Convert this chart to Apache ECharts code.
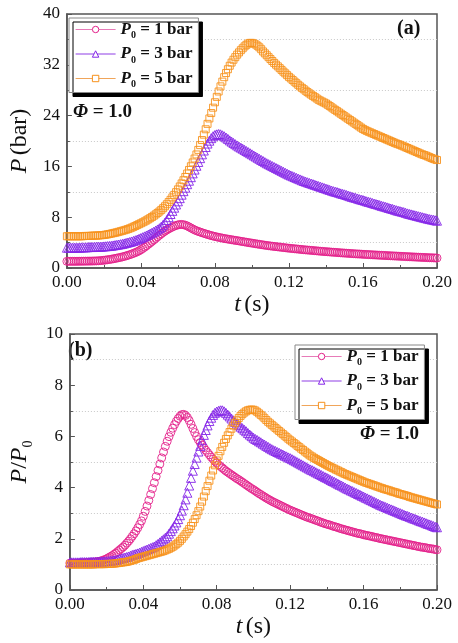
<!DOCTYPE html>
<html><head><meta charset="utf-8">
<script src="https://cdn.jsdelivr.net/npm/echarts@6/dist/echarts.min.js"></script>
<style>html,body{margin:0;padding:0;background:#fff}#c{width:458px;height:643px}</style>
</head><body><div id="c"></div>
<script>
// time (s)
const tSec = [
0.000,0.001,0.002,0.003,0.004,0.005,0.006,0.007,0.008,0.009,
0.010,0.011,0.012,0.013,0.014,0.015,0.016,0.017,0.018,0.019,
0.020,0.021,0.022,0.023,0.024,0.025,0.026,0.027,0.028,0.029,
0.030,0.031,0.032,0.033,0.034,0.035,0.036,0.037,0.038,0.039,
0.040,0.041,0.042,0.043,0.044,0.045,0.046,0.047,0.048,0.049,
0.050,0.051,0.052,0.053,0.054,0.055,0.056,0.057,0.058,0.059,
0.060,0.061,0.062,0.063,0.064,0.065,0.066,0.067,0.068,0.069,
0.070,0.071,0.072,0.073,0.074,0.075,0.076,0.077,0.078,0.079,
0.080,0.081,0.082,0.083,0.084,0.085,0.086,0.087,0.088,0.089,
0.090,0.091,0.092,0.093,0.094,0.095,0.096,0.097,0.098,0.099,
0.100,0.101,0.102,0.103,0.104,0.105,0.106,0.107,0.108,0.109,
0.110,0.111,0.112,0.113,0.114,0.115,0.116,0.117,0.118,0.119,
0.120,0.121,0.122,0.123,0.124,0.125,0.126,0.127,0.128,0.129,
0.130,0.131,0.132,0.133,0.134,0.135,0.136,0.137,0.138,0.139,
0.140,0.141,0.142,0.143,0.144,0.145,0.146,0.147,0.148,0.149,
0.150,0.151,0.152,0.153,0.154,0.155,0.156,0.157,0.158,0.159,
0.160,0.161,0.162,0.163,0.164,0.165,0.166,0.167,0.168,0.169,
0.170,0.171,0.172,0.173,0.174,0.175,0.176,0.177,0.178,0.179,
0.180,0.181,0.182,0.183,0.184,0.185,0.186,0.187,0.188,0.189,
0.190,0.191,0.192,0.193,0.194,0.195,0.196,0.197,0.198,0.199,
0.200];

// P0 = 1 bar : P (bar) in (a), identical to P/P0 in (b)
const p1bar = [
1.05,1.05,1.05,1.05,1.05,1.05,1.06,1.06,1.07,1.07,
1.08,1.08,1.09,1.09,1.10,1.11,1.12,1.14,1.16,1.19,
1.22,1.26,1.30,1.34,1.39,1.44,1.50,1.56,1.62,1.68,
1.75,1.83,1.91,2.00,2.10,2.20,2.31,2.43,2.56,2.70,
2.88,3.07,3.28,3.50,3.73,3.96,4.19,4.43,4.67,4.92,
5.16,5.39,5.61,5.81,5.99,6.16,6.32,6.46,6.59,6.70,
6.79,6.85,6.86,6.82,6.74,6.62,6.47,6.31,6.15,6.00,
5.87,5.76,5.66,5.56,5.46,5.37,5.28,5.19,5.11,5.03,
4.96,4.89,4.83,4.77,4.71,4.65,4.60,4.55,4.50,4.45,
4.40,4.35,4.31,4.26,4.21,4.16,4.11,4.06,4.01,3.96,
3.92,3.87,3.82,3.77,3.73,3.68,3.64,3.59,3.55,3.51,
3.47,3.43,3.40,3.36,3.33,3.29,3.26,3.22,3.19,3.15,
3.12,3.09,3.06,3.03,3.00,2.97,2.94,2.91,2.88,2.85,
2.83,2.80,2.78,2.75,2.72,2.70,2.67,2.64,2.62,2.59,
2.57,2.55,2.53,2.50,2.48,2.46,2.44,2.41,2.39,2.37,
2.35,2.33,2.31,2.29,2.27,2.25,2.23,2.21,2.20,2.18,
2.16,2.14,2.13,2.11,2.10,2.08,2.06,2.05,2.03,2.01,
2.00,1.98,1.97,1.95,1.94,1.92,1.91,1.89,1.88,1.86,
1.85,1.83,1.82,1.80,1.79,1.77,1.76,1.74,1.73,1.71,
1.70,1.68,1.67,1.66,1.65,1.63,1.62,1.61,1.60,1.58,
1.57];

// (a) P (bar), P0 = 3 bar
const p3bar = [
3.2,3.2,3.2,3.2,3.2,3.2,3.2,3.22,3.25,3.25,
3.25,3.27,3.3,3.3,3.3,3.32,3.35,3.35,3.35,3.37,
3.4,3.42,3.45,3.47,3.5,3.55,3.6,3.65,3.7,3.75,
3.8,3.87,3.95,4.02,4.1,4.18,4.27,4.37,4.48,4.6,
4.72,4.85,4.98,5.12,5.26,5.41,5.56,5.72,5.89,6.07,
6.26,6.5,6.8,7.15,7.55,8.0,8.5,9.0,9.5,10.0,
10.5,11.0,11.55,12.1,12.65,13.2,13.75,14.3,14.9,15.5,
16.1,16.7,17.3,17.9,18.5,19.05,19.6,20.05,20.45,20.75,
20.95,21.05,21.1,21.05,20.9,20.75,20.55,20.33,20.1,19.9,
19.7,19.5,19.3,19.12,18.95,18.78,18.6,18.42,18.25,18.07,
17.9,17.72,17.55,17.37,17.2,17.02,16.85,16.67,16.5,16.35,
16.2,16.05,15.9,15.75,15.6,15.45,15.3,15.15,15.0,14.85,
14.7,14.57,14.45,14.32,14.2,14.07,13.95,13.82,13.7,13.6,
13.5,13.4,13.3,13.2,13.1,13.0,12.9,12.8,12.7,12.6,
12.5,12.4,12.3,12.2,12.1,12.02,11.95,11.85,11.75,11.67,
11.6,11.5,11.4,11.3,11.2,11.12,11.05,10.95,10.85,10.77,
10.7,10.6,10.5,10.42,10.35,10.25,10.15,10.07,10.0,9.9,
9.8,9.72,9.65,9.55,9.45,9.37,9.3,9.2,9.1,9.02,
8.95,8.87,8.8,8.7,8.6,8.52,8.45,8.37,8.3,8.22,
8.15,8.07,8.0,7.92,7.85,7.77,7.7,7.65,7.6,7.52,
7.45];

// (a) P (bar), P0 = 5 bar
const p5bar = [
5.0,5.0,5.0,5.0,5.0,5.0,5.0,5.0,5.0,5.02,
5.05,5.05,5.05,5.07,5.1,5.1,5.1,5.12,5.15,5.17,
5.2,5.25,5.3,5.36,5.42,5.48,5.55,5.62,5.7,5.78,
5.86,5.94,6.03,6.13,6.24,6.36,6.49,6.62,6.76,6.9,
7.04,7.19,7.34,7.5,7.67,7.85,8.04,8.24,8.45,8.67,
8.9,9.15,9.42,9.72,10.04,10.38,10.74,11.12,11.52,11.94,
12.38,12.84,13.32,13.82,14.34,14.88,15.44,16.02,16.62,17.24,
17.88,18.6,19.35,20.15,21.0,21.85,22.7,23.55,24.4,25.25,
26.1,26.95,27.8,28.6,29.35,30.05,30.7,31.3,31.85,32.35,
32.8,33.2,33.6,33.95,34.3,34.6,34.9,35.15,35.35,35.45,
35.45,35.35,35.2,35.0,34.75,34.45,34.1,33.8,33.5,33.2,
32.9,32.6,32.3,32.02,31.75,31.47,31.2,30.92,30.65,30.37,
30.1,29.85,29.6,29.35,29.1,28.85,28.6,28.37,28.15,27.92,
27.7,27.5,27.3,27.1,26.9,26.7,26.5,26.35,26.2,26.05,
25.9,25.7,25.5,25.3,25.1,24.9,24.7,24.5,24.3,24.1,
23.9,23.7,23.5,23.3,23.1,22.9,22.7,22.5,22.3,22.1,
21.9,21.75,21.6,21.47,21.35,21.22,21.1,20.97,20.85,20.72,
20.6,20.47,20.35,20.22,20.1,19.97,19.85,19.72,19.6,19.5,
19.4,19.27,19.15,19.02,18.9,18.77,18.65,18.52,18.4,18.27,
18.15,18.02,17.9,17.8,17.7,17.57,17.45,17.32,17.2,17.1,
17.0];

// (b) P/P0, P0 = 3 bar
const r3bar = [
1.08,1.08,1.08,1.08,1.08,1.08,1.09,1.09,1.09,1.09,
1.09,1.10,1.10,1.10,1.10,1.11,1.11,1.11,1.11,1.12,
1.12,1.13,1.14,1.15,1.16,1.17,1.19,1.21,1.23,1.25,
1.27,1.29,1.31,1.34,1.37,1.39,1.41,1.43,1.46,1.49,
1.52,1.55,1.58,1.61,1.64,1.67,1.70,1.75,1.80,1.86,
1.92,1.98,2.04,2.10,2.20,2.30,2.41,2.52,2.64,2.77,
2.92,3.10,3.31,3.54,3.80,4.08,4.38,4.66,4.92,5.17,
5.41,5.63,5.85,6.06,6.25,6.43,6.60,6.73,6.84,6.92,
6.97,7.00,7.02,7.02,6.98,6.92,6.85,6.78,6.70,6.63,
6.56,6.50,6.44,6.38,6.32,6.26,6.20,6.13,6.07,6.01,
5.95,5.90,5.86,5.81,5.77,5.72,5.68,5.63,5.59,5.54,
5.50,5.46,5.43,5.39,5.36,5.32,5.29,5.25,5.22,5.18,
5.15,5.11,5.07,5.03,4.99,4.95,4.91,4.87,4.83,4.79,
4.75,4.71,4.68,4.64,4.60,4.56,4.53,4.49,4.45,4.41,
4.38,4.34,4.30,4.26,4.23,4.19,4.15,4.11,4.08,4.04,
4.00,3.96,3.93,3.89,3.86,3.82,3.79,3.75,3.72,3.68,
3.65,3.61,3.58,3.54,3.51,3.47,3.44,3.40,3.37,3.33,
3.30,3.27,3.24,3.21,3.18,3.15,3.12,3.09,3.06,3.03,
3.00,2.97,2.94,2.91,2.89,2.86,2.83,2.80,2.78,2.75,
2.72,2.69,2.67,2.64,2.61,2.58,2.56,2.53,2.50,2.47,
2.45];

// (b) P/P0, P0 = 5 bar
const r5bar = [
1.00,1.00,1.00,1.00,1.00,1.00,1.00,1.00,1.00,1.00,
1.00,1.00,1.00,1.00,1.01,1.01,1.01,1.01,1.01,1.01,
1.02,1.02,1.02,1.03,1.03,1.04,1.05,1.06,1.07,1.08,
1.09,1.10,1.12,1.14,1.16,1.18,1.21,1.24,1.26,1.28,
1.30,1.32,1.34,1.36,1.38,1.40,1.42,1.44,1.46,1.48,
1.50,1.52,1.55,1.58,1.61,1.65,1.69,1.74,1.79,1.85,
1.92,2.00,2.09,2.18,2.28,2.38,2.50,2.63,2.77,2.92,
3.08,3.26,3.45,3.65,3.86,4.06,4.27,4.47,4.67,4.87,
5.06,5.24,5.42,5.59,5.75,5.90,6.04,6.17,6.30,6.42,
6.53,6.63,6.72,6.80,6.87,6.93,6.98,7.02,7.04,7.05,
7.04,7.01,6.96,6.90,6.84,6.78,6.71,6.64,6.57,6.51,
6.45,6.39,6.33,6.27,6.21,6.15,6.09,6.03,5.97,5.91,
5.85,5.80,5.74,5.69,5.63,5.58,5.52,5.47,5.41,5.36,
5.30,5.25,5.21,5.16,5.12,5.08,5.04,5.00,4.96,4.92,
4.88,4.84,4.81,4.77,4.74,4.70,4.67,4.63,4.60,4.56,
4.53,4.50,4.47,4.44,4.41,4.38,4.35,4.32,4.29,4.26,
4.23,4.20,4.18,4.15,4.13,4.10,4.08,4.05,4.03,4.00,
3.98,3.95,3.93,3.91,3.89,3.86,3.84,3.82,3.80,3.77,
3.75,3.73,3.71,3.69,3.67,3.64,3.62,3.60,3.58,3.56,
3.54,3.52,3.50,3.48,3.46,3.44,3.42,3.40,3.38,3.36,
3.34];

const seriesNames = ['P0 = 1 bar', 'P0 = 3 bar', 'P0 = 5 bar'];
const legendLabels = ['1 bar', '3 bar', '5 bar'];

const colors = ['#e3208a', '#8425e8', '#f7921c'];
const legendLineColors = ['#e77bb8', '#8f3ee6', '#f0a55a'];
const symbols = ['circle', 'triangle', 'rect'];
const symbolSizes = [8, 9, 7];
const serif = '"Liberation Serif","Times New Roman",serif';

function pairs(vals) { return tSec.map((t, i) => [t, vals[i]]); }

const topSets = [p1bar, p3bar, p5bar];
const botSets = [p1bar, r3bar, r5bar];

const series = [];
[topSets, botSets].forEach((sets, g) => {
  sets.forEach((vals, k) => {
    series.push({
      name: seriesNames[k],
      type: 'line',
      xAxisIndex: g, yAxisIndex: g,
      data: pairs(vals),
      symbol: symbols[k],
      symbolSize: symbolSizes[k],
      showSymbol: true,
      showAllSymbol: true,
      color: colors[k],
      itemStyle: { color: 'rgba(255,255,255,0)', borderColor: colors[k], borderWidth: 0.9 },
      lineStyle: { color: colors[k], opacity: 0 },
      emphasis: { disabled: true },
      animation: false,
      z: 3 + k
    });
  });
});

const richLegend = {
  i: { fontFamily: serif, fontStyle: 'italic', fontWeight: 'bold', fontSize: 17, color: '#111', lineHeight: 22, verticalAlign: 'middle' },
  s: { fontFamily: serif, fontWeight: 'bold', fontSize: 10, color: '#111', lineHeight: 22, verticalAlign: 'bottom' },
  b: { fontFamily: serif, fontWeight: 'bold', fontSize: 17, color: '#111', lineHeight: 22, verticalAlign: 'middle' }
};
function legendFmt(name) {
  const k = seriesNames.indexOf(name);
  return '{i|P}{s|0}{b| = ' + legendLabels[k] + '}';
}
function makeLegend(left, top) {
  return {
    orient: 'vertical', left: left, top: top,
    data: seriesNames.map((n, k) => ({
      name: n,
      itemStyle: { color: '#fff', borderColor: colors[k], borderWidth: 1 },
      lineStyle: { color: legendLineColors[k], opacity: 1, width: 1.2 }
    })),
    itemWidth: 40, itemHeight: 8, itemGap: 5,
    padding: [3, 6, 3, 6],
    backgroundColor: '#fff', borderColor: '#888', borderWidth: 1,
    shadowColor: '#000', shadowOffsetX: 4, shadowOffsetY: 4, shadowBlur: 0,
    lineStyle: { opacity: 1, width: 1.2 },
    formatter: legendFmt,
    textStyle: { rich: richLegend },
    selectedMode: false
  };
}

const axisCommon = {
  axisLine: { show: true, onZero: false, lineStyle: { color: '#555', width: 1.5 } },
  axisTick: { show: true, inside: true, length: 5, lineStyle: { color: '#555', width: 1 } },
  minorTick: { show: true, splitNumber: 2, length: 3, lineStyle: { color: '#555' } },
  splitLine: { show: false },
  axisLabel: { fontFamily: serif, fontSize: 17, color: '#111' }
};

function xAx(idx) {
  return Object.assign({}, axisCommon, {
    type: 'value', gridIndex: idx, min: 0, max: 0.2, interval: 0.04,
    axisLabel: Object.assign({}, axisCommon.axisLabel, { margin: 6, formatter: v => v.toFixed(2) }),
    name: '{i|t} {n|(s)}', nameLocation: 'middle', nameGap: 25,
    nameTextStyle: { rich: {
      i: { fontFamily: serif, fontStyle: 'italic', fontSize: 24, color: '#111' },
      n: { fontFamily: serif, fontSize: 24, color: '#111' } } }
  });
}
function yAx(idx, max, interval, name, rich) {
  return Object.assign({}, axisCommon, {
    type: 'value', gridIndex: idx, min: 0, max: max, interval: interval,
    axisLabel: Object.assign({}, axisCommon.axisLabel, { margin: 7 }),
    minorSplitLine: { show: true, lineStyle: { color: '#c8c8c8', type: [1, 2], width: 1 } },
    name: name, nameLocation: 'middle', nameGap: 32, nameRotate: 90,
    nameTextStyle: { rich: rich }
  });
}

const option = {
  backgroundColor: '#fff',
  animation: false,
  grid: [
    { left: 60, top: 14, width: 377, height: 254, show: true, borderColor: '#555', borderWidth: 1.5, backgroundColor: 'transparent' },
    { left: 60, top: 334, width: 377, height: 256, show: true, borderColor: '#555', borderWidth: 1.5, backgroundColor: 'transparent' }
  ],
  xAxis: [xAx(0), xAx(1)],
  yAxis: [
    yAx(0, 40, 8, '{i|P} {n|(bar)}', {
      i: { fontFamily: serif, fontStyle: 'italic', fontSize: 24, color: '#111' },
      n: { fontFamily: serif, fontSize: 24, color: '#111' } }),
    yAx(1, 10, 2, '{i|P}{n|/}{i|P}{s|0}', {
      i: { fontFamily: serif, fontStyle: 'italic', fontSize: 24, color: '#111', lineHeight: 30, verticalAlign: 'middle' },
      n: { fontFamily: serif, fontSize: 24, color: '#111', lineHeight: 30, verticalAlign: 'middle' },
      s: { fontFamily: serif, fontSize: 14, color: '#111', lineHeight: 30, verticalAlign: 'bottom' } })
  ],
  legend: [ makeLegend(69, 18), makeLegend(295, 345) ],
  graphic: [
    { type: 'text', left: 397, top: 19, style: { text: '(a)', font: 'bold 20px ' + serif, fill: '#111' } },
    { type: 'text', left: 68, top: 341, style: { text: '(b)', font: 'bold 20px ' + serif, fill: '#111' } },
    { type: 'text', left: 73, top: 103, style: { text: '{i|Φ}{b| = 1.0}', rich: {
      i: { fontFamily: serif, fontStyle: 'italic', fontWeight: 'bold', fontSize: 19, fill: '#111' },
      b: { fontFamily: serif, fontWeight: 'bold', fontSize: 19, fill: '#111' } } } },
    { type: 'text', left: 360, top: 425, style: { text: '{i|Φ}{b| = 1.0}', rich: {
      i: { fontFamily: serif, fontStyle: 'italic', fontWeight: 'bold', fontSize: 19, fill: '#111' },
      b: { fontFamily: serif, fontWeight: 'bold', fontSize: 19, fill: '#111' } } } }
  ],
  series: series
};

const chart = echarts.init(document.getElementById('c'), null, { renderer: 'canvas' });
chart.setOption(option);
</script>
</body></html>
